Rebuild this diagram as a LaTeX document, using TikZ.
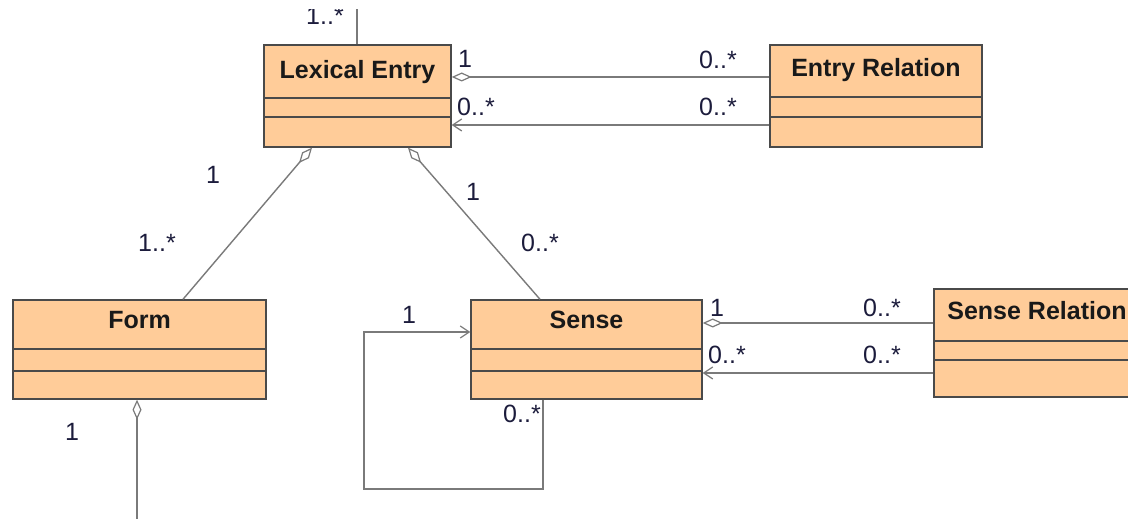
\documentclass[tikz,border=0pt]{standalone}
\usepackage{fontspec}
\setmainfont{Liberation Sans}
\usetikzlibrary{arrows.meta}

\definecolor{classfill}{HTML}{FFCC99}
\definecolor{classline}{HTML}{4A4A4A}
\definecolor{assocline}{HTML}{7A7A7A}
\definecolor{multtext}{HTML}{1C1C3C}

\tikzset{
  classbox/.style={draw=classline, line width=1.4pt, fill=classfill,
    rectangle, inner sep=0pt},
  divider/.style={draw=classline, line width=1.4pt},
  classname/.style={font=\fontsize{25}{25}\selectfont\bfseries, text=black!90,
    inner sep=0pt, text height=18pt, text depth=0pt},
  mult/.style={font=\fontsize{25}{25}\selectfont, text=multtext,
    inner sep=0pt, text height=18pt, text depth=0pt},
  assoc/.style={draw=assocline, line width=1.4pt},
  aggr/.style={assoc, {Diamond[open, length=20pt, width=9pt, line width=1.2pt]}-},
  navi/.style={assoc, -{Straight Barb[length=9pt, width=12pt, line width=1.2pt]}},
}

% \umlclass{name}{cx}{cy}{width}{height}{divider 1 y}{divider 2 y}{title y}{title}
\newcommand{\umlclass}[9]{%
  \node[classbox, minimum width=#4pt, minimum height=#5pt] (#1) at (#2pt,#3pt) {};
  \draw[divider] (#1.west |- 0,#6pt) -- (#1.east |- 0,#6pt);
  \draw[divider] (#1.west |- 0,#7pt) -- (#1.east |- 0,#7pt);
  \node[classname] (#1-title) at (#2pt,#8pt) {#9};
}

\begin{document}
\begin{tikzpicture}[x=1pt, y=1pt]
\useasboundingbox (0,0) rectangle (1128,519);
\fill[white] (0,0) rectangle (1128,519);

\begin{scope}
\clip (0,0) rectangle (1128,509);

% classes
\umlclass{lex}{357.5}{423}{187}{102}{421}{402}{449}{Lexical Entry}
\umlclass{erel}{876}{423}{212}{102}{422}{402}{451}{Entry Relation}
\umlclass{form}{139.5}{169.5}{253}{99}{170}{148}{199}{Form}
\umlclass{sense}{586.5}{169.5}{231}{99}{170}{148}{199}{Sense}
\umlclass{srel}{1037}{176}{206}{108}{178}{159}{208}{Sense Relation}

% free ends leaving the drawing area
\coordinate (topend) at (357,519);
\coordinate (formend) at (137,0);
\coordinate (loopA) at (543,30);
\coordinate (loopB) at (364,30);
\coordinate (loopC) at (364,187);

% association above Lexical Entry
\draw[assoc] (lex.north -| topend) -- (topend);
\node[mult] (m-top) at (325,503) {1..*};

% Lexical Entry -- Entry Relation
\draw[aggr] (lex.east |- 0,442) -- (erel.west |- 0,442);
\draw[navi] (erel.west |- 0,394) -- (lex.east |- 0,394);
\node[mult] (m-le1) at (465,460) {1};
\node[mult] (m-le2) at (476,412) {0..*};
\node[mult] (m-er1) at (718,459) {0..*};
\node[mult] (m-er2) at (718,412) {0..*};

% Lexical Entry -- Form and Sense
\draw[aggr] (lex.south -| 312,0) -- (form.north -| 183,0);
\draw[aggr] (lex.south -| 408,0) -- (sense.north -| 540,0);
\node[mult] (m-f1) at (213,344) {1};
\node[mult] (m-f2) at (157,276) {1..*};
\node[mult] (m-s1) at (473,327) {1};
\node[mult] (m-s2) at (540,276) {0..*};

% Form downwards
\draw[aggr] (form.south -| formend) -- (formend);
\node[mult] (m-fb) at (72,87) {1};

% Sense self association
\draw[navi] (sense.south -| loopA) -- (loopA) -- (loopB) -- (loopC)
  -- (sense.west |- loopC);
\node[mult] (m-l1) at (409,204) {1};
\node[mult] (m-l2) at (522,105) {0..*};

% Sense -- Sense Relation
\draw[aggr] (sense.east |- 0,196) -- (srel.west |- 0,196);
\draw[navi] (srel.west |- 0,146) -- (sense.east |- 0,146);
\node[mult] (m-se1) at (717,211) {1};
\node[mult] (m-se2) at (727,164) {0..*};
\node[mult] (m-sr1) at (882,211) {0..*};
\node[mult] (m-sr2) at (882,164) {0..*};
\end{scope}
\end{tikzpicture}
\end{document}
